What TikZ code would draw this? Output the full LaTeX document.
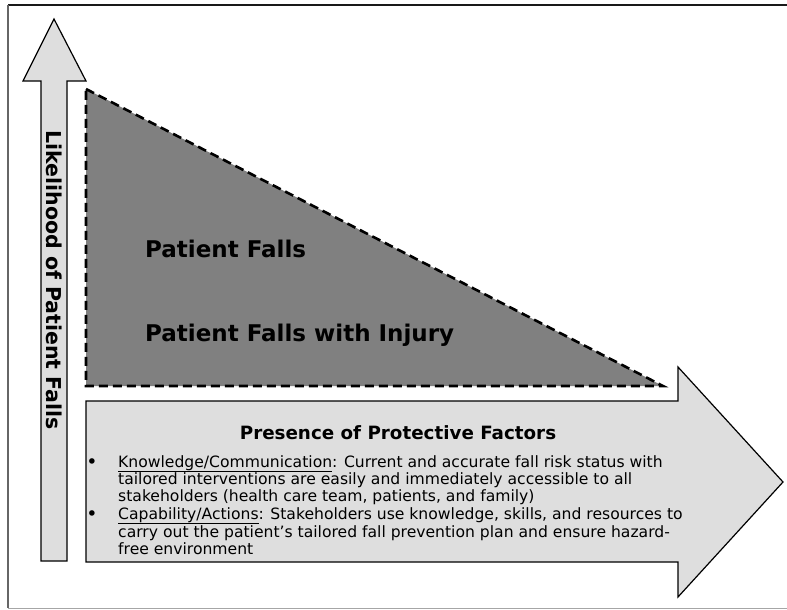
\documentclass[tikz,border=0pt]{standalone}
\usepackage{fontspec}
\setmainfont{DejaVu Sans}
\begin{document}
\begin{tikzpicture}[x=1pt,y=-1pt,
  arrowshape/.style={fill=arrowgray,draw=black,line width=1.2pt,line join=miter},
  tri/.style={fill=trigray,draw=black,line width=2.6pt,dash pattern=on 9pt off 5pt},
  body/.style={anchor=base west,inner sep=0pt,font=\fontsize{15.6}{17}\selectfont},
  big/.style={anchor=base west,inner sep=0pt,font=\fontsize{23}{26}\selectfont\bfseries},
  bul/.style={anchor=base,inner sep=0pt,font=\fontsize{19}{20}\selectfont}]
\definecolor{arrowgray}{HTML}{DEDEDE}
\definecolor{trigray}{HTML}{808080}
\useasboundingbox (0,0) rectangle (787,610);
% frame
\draw[line width=1.6pt,black!90] (8,5) -- (790,5);
\draw[line width=1.2pt,black!60] (8,5) -- (8,608);
\draw[line width=1pt,black!35] (8,608) -- (790,608);
% vertical arrow
\draw[arrowshape] (54,19) -- (86,81) -- (67,81) -- (67,561) -- (41,561) -- (41,81) -- (23,81) -- cycle;
\node[rotate=-90,inner sep=0pt,font=\fontsize{20.5}{22}\selectfont\bfseries] (ylab) at (54.5,280) {Likelihood of Patient Falls};
% triangle
\draw[tri] (86,89) -- (663,386) -- (86,386) -- cycle;
\node[big] (pf) at (145,257) {Patient Falls};
\node[big] (pfi) at (145,341) {Patient Falls with Injury};
% horizontal arrow
\draw[arrowshape] (86,401) -- (678,401) -- (678,367) -- (783,482) -- (678,597) -- (678,562) -- (86,562) -- cycle;
\node[anchor=base,inner sep=0pt,font=\fontsize{18.3}{20}\selectfont\bfseries] (title) at (398,439) {Presence of Protective Factors};
\node[bul] (b1) at (92,468) {\textbullet};
\node[bul] (b2) at (92,520) {\textbullet};
\node[body] (l1) at (118,467) {\underline{Knowledge/Communication}: Current and accurate fall risk status with};
\node[body] (l2) at (118,484) {tailored interventions are easily and immediately accessible to all};
\node[body] (l3) at (118,501) {stakeholders (health care team, patients, and family)};
\node[body] (l4) at (118,519) {\underline{Capability/Actions}: Stakeholders use knowledge, skills, and resources to};
\node[body] (l5) at (118,537) {carry out the patient’s tailored fall prevention plan and ensure hazard-};
\node[body] (l6) at (118,554) {free environment};
\end{tikzpicture}
\end{document}
